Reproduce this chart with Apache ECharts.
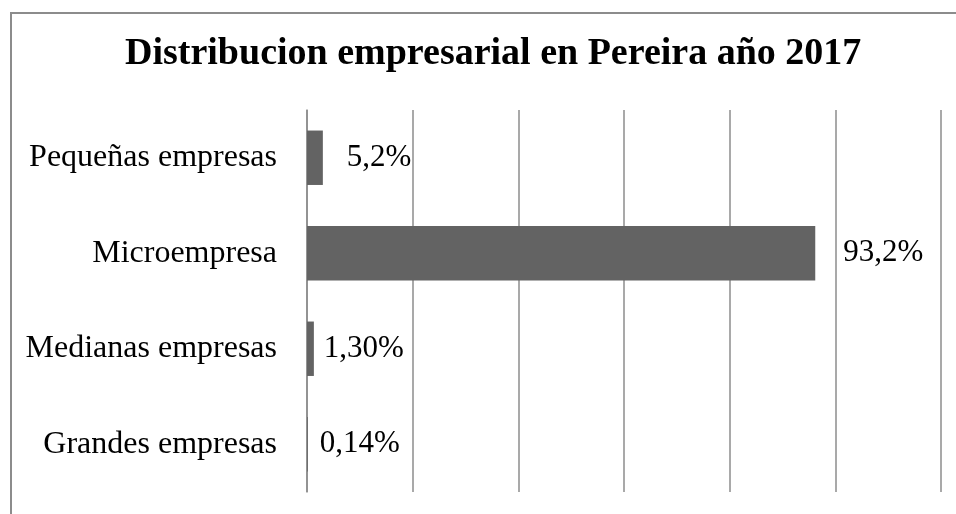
<!DOCTYPE html>
<html>
<head>
<meta charset="utf-8">
<script src="https://cdn.jsdelivr.net/npm/echarts@6/dist/echarts.min.js"></script>
<style>
  html, body { margin: 0; padding: 0; background: #fff; }
  #main { width: 956px; height: 514px; }
</style>
</head>
<body>
<div id="main"></div>
<script>
// categorias de arriba hacia abajo
var categorias = ['Pequeñas empresas', 'Microempresa', 'Medianas empresas', 'Grandes empresas'];
// largo de las barras (en %)
var valores = [3.0, 96.2, 1.3, 0.14];
// etiquetas que muestra el grafico
var etiquetas = ['5,2%', '93,2%', '1,30%', '0,14%'];

var myChart = echarts.init(document.getElementById('main'));

var gris = '#8c8c8c';
var distancias = [24, 28, 10, 12];

var option = {
    animation: false,
    textStyle: { fontFamily: 'Liberation Serif' },
    title: {
        text: 'Distribucion empresarial en Pereira año 2017',
        left: 120,
        top: 30,
        textStyle: { fontFamily: 'Liberation Serif', fontSize: 38, fontWeight: 'bold', color: '#000' }
    },
    graphic: [{
        type: 'rect',
        shape: { x: 11, y: 13, width: 1000, height: 600 },
        style: { fill: 'none', stroke: gris, lineWidth: 2 }
    }],
    grid: { left: 307, right: 15, top: 110, bottom: 22 },
    xAxis: {
        type: 'value',
        min: 0,
        max: 120,
        interval: 20,
        axisLabel: { show: false },
        axisLine: { show: false },
        axisTick: { show: false },
        splitLine: { lineStyle: { color: gris, width: 1.5 } }
    },
    yAxis: {
        type: 'category',
        inverse: true,
        data: categorias,
        axisLine: { lineStyle: { color: gris, width: 1.5 } },
        axisTick: { show: false },
        axisLabel: { fontSize: 32, color: '#000', margin: 30, lineHeight: 36, padding: [6, 0, 0, 0], fontFamily: 'Liberation Serif' }
    },
    series: [{
        type: 'bar',
        barCategoryGap: '43%',
        itemStyle: { color: '#636363' },
        data: valores.map(function (v, i) {
            return {
                value: v,
                label: {
                    show: true,
                    position: 'right',
                    distance: distancias[i],
                    formatter: etiquetas[i],
                    fontSize: 31,
                    color: '#000',
                    padding: [6, 0, 0, 0],
                    fontFamily: 'Liberation Serif'
                }
            };
        })
    }]
};

myChart.setOption(option);
</script>
</body>
</html>
